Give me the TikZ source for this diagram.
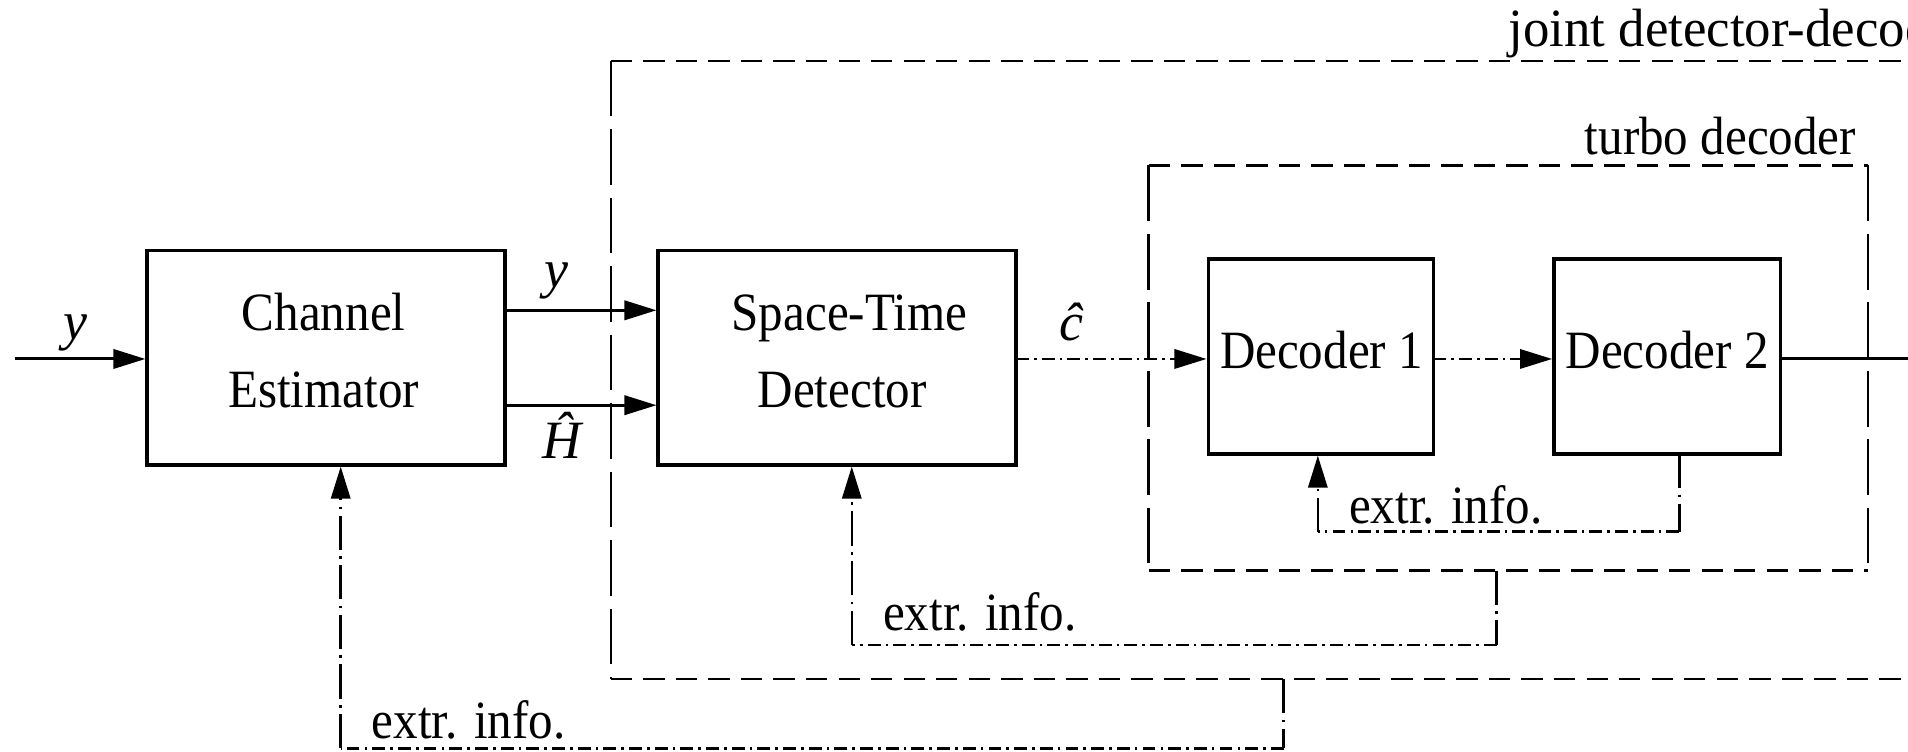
\documentclass[tikz,border=0pt]{standalone}
\usepackage{fontspec}
\setmainfont{Liberation Serif}
\usepackage{graphicx}
\usetikzlibrary{arrows.meta}
\newcommand{\sq}[1]{\scalebox{0.91}[1]{#1}}
\tikzset{
  lbl/.style={inner sep=0pt, font=\fontsize{12.6}{18}\selectfont},
  tip/.style={-{Triangle[length=7.5pt,width=4.5pt]}},
  solidln/.style={line width=0.7pt},
  hdash/.style={line width=0.6pt, dash pattern=on 5pt off 2.6pt},
  vdash/.style={line width=0.6pt, dash pattern=on 13pt off 3pt},
  hdd/.style={line width=0.6pt, dash pattern=on 3pt off 1.2pt on 0.6pt off 1.2pt},
  vdd/.style={line width=0.6pt, dash pattern=on 8pt off 1.5pt on 0.6pt off 1.5pt},
}
\begin{document}
\begin{tikzpicture}[x=0.01cm,y=-0.01cm]
\useasboundingbox (0,0) rectangle (1568,618);
\clip (0,0) rectangle (1568,618);
% blocks
\node[draw, line width=0.8pt, minimum width=2.94cm, minimum height=1.76cm, inner sep=0pt] (ce) at (268,294) {};
\node[draw, line width=0.8pt, minimum width=2.94cm, minimum height=1.76cm, inner sep=0pt] (std) at (688,294) {};
\node[draw, line width=0.8pt, minimum width=1.85cm, minimum height=1.60cm, inner sep=0pt] (d1) at (1085.5,293) {};
\node[draw, line width=0.8pt, minimum width=1.86cm, minimum height=1.60cm, inner sep=0pt] (d2) at (1370,293) {};
\node[lbl, anchor=base] (cet1) at (266,272) {\sq{Channel}};
\node[lbl, anchor=base] (cet2) at (266,335) {\sq{Estimator}};
\node[lbl, anchor=base] (stdt1) at (698,272) {\sq{Space-Time}};
\node[lbl, anchor=base] (stdt2) at (692,335) {\sq{Detector}};
\node[lbl, anchor=base] (d1t) at (1086,303) {\sq{Decoder 1}};
\node[lbl, anchor=base] (d2t) at (1370,303) {\sq{Decoder 2}};
% dashed group boxes
\coordinate (ta) at (944,136);
\coordinate (tb) at (1535,136);
\coordinate (tc) at (1535,469);
\coordinate (td) at (944,469);
\draw[hdash] (ta) -- (tb);
\draw[hdash] (td) -- (tc);
\draw[vdash] (ta) -- (td);
\draw[vdash] (tb) -- (tc);
\coordinate (ja) at (502,50);
\coordinate (jb) at (1640,50);
\coordinate (jc) at (1640,558);
\coordinate (jd) at (502,558);
\draw[hdash] (ja) -- (jb);
\draw[hdash] (jd) -- (jc);
\draw[vdash] (ja) -- (jd);
\node[lbl, anchor=base east] (turbo) at (1526,127) {\sq{turbo decoder}};
\node[lbl, anchor=base west] (joint) at (1239,38) {\scalebox{0.98}[1]{joint detector-decoder}};
% forward signals
\coordinate (in) at (12,295);
\draw[solidln, tip] (in) -- (in -| ce.west);
\node[lbl, anchor=base] (yin) at (62,279) {\textit{y}};
\coordinate (ya) at (415,255);
\draw[solidln, tip] (ya) -- (ya -| std.west);
\node[lbl, anchor=base] (yout) at (457,236) {\textit{y}};
\coordinate (ha) at (415,333);
\draw[solidln, tip] (ha) -- (ha -| std.west);
\node[lbl, anchor=base] (hh) at (463,377) {\textit{Ĥ}};
\coordinate (ca) at (835,295);
\draw[hdd, tip] (ca) -- (ca -| d1.west);
\node[lbl, anchor=base] (chat) at (881,280) {\textit{ĉ}};
\coordinate (da) at (1178,295);
\draw[hdd, tip] (da) -- (da -| d2.west);
\coordinate (out) at (1600,295);
\draw[solidln] (d2.east |- out) -- (out);
% inner feedback
\coordinate (f1a) at (1380,373);
\coordinate (f1b) at (1380,437);
\coordinate (f1c) at (1083,437);
\draw[vdd] (f1a) -- (f1b);
\draw[hdd] (f1b) -- (f1c);
\draw[vdd, tip] (f1c) -- (f1c |- d1.south);
\node[lbl, anchor=base west] (e1) at (1108,430) {\sq{extr. info.}};
% middle feedback
\coordinate (f2a) at (1230,469);
\coordinate (f2b) at (1230,530);
\coordinate (f2c) at (700,530);
\draw[vdd] (f2a) -- (f2b);
\draw[hdd] (f2b) -- (f2c);
\draw[vdd, tip] (f2c) -- (f2c |- std.south);
\node[lbl, anchor=base west] (e2) at (725,518) {\sq{extr. info.}};
% outer feedback
\coordinate (f3a) at (1055,558);
\coordinate (f3b) at (1055,615);
\coordinate (f3c) at (280,615);
\draw[vdd] (f3a) -- (f3b);
\draw[hdd] (f3b) -- (f3c);
\draw[vdd, tip] (f3c) -- (f3c |- ce.south);
\node[lbl, anchor=base west] (e3) at (305,607) {\sq{extr. info.}};
\end{tikzpicture}
\end{document}
